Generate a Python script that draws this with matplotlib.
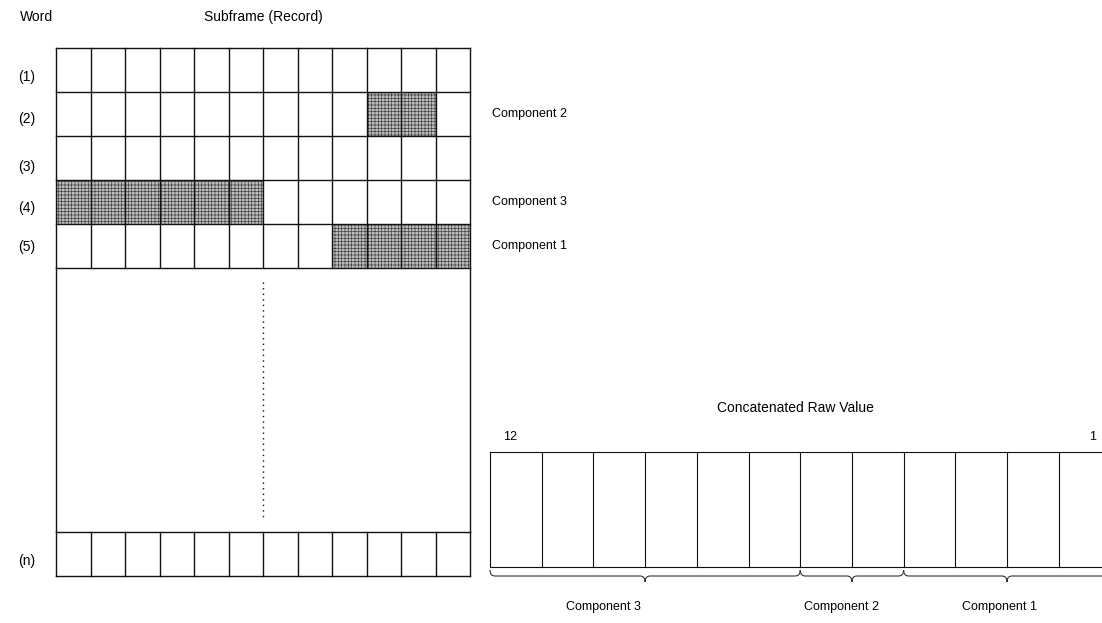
import matplotlib
matplotlib.use("Agg")
import matplotlib.pyplot as plt
from matplotlib.patches import Rectangle
from matplotlib.path import Path
from matplotlib.patches import PathPatch

plt.rcParams['font.family'] = ['Liberation Sans', 'DejaVu Sans']
plt.rcParams['hatch.linewidth'] = 0.5

# ---- data ----
n_bits = 12
row_labels = ["(1)", "(2)", "(3)", "(4)", "(5)"]
last_row_label = "(n)"
# shaded cells: (component name, row index, first col, last col exclusive)
comp_names = ["Component 2", "Component 3", "Component 1"]
comp_rows = [1, 3, 4]
comp_start = [9, 0, 8]
comp_stop = [11, 6, 12]
# concatenated bit grouping (left to right)
concat_names = ["Component 3", "Component 2", "Component 1"]
concat_widths = [6, 2, 4]
bit_labels = ["12", "1"]

# ---- layout (pixel coordinates) ----
W, H = 1102, 623
fig = plt.figure(figsize=(W / 100, H / 100), dpi=100)
ax = fig.add_axes([0, 0, 1, 1])
ax.set_xlim(0, W)
ax.set_ylim(H, 0)
ax.axis('off')

gx0, gx1 = 56, 470
gy0, rh = 48, 44
cw = (gx1 - gx0) / n_bits
lw = 1.0
lc = '#111111'
fs = 10

# header
ax.text(20, 17, "Word", fontsize=fs, va='center', ha='left')
ax.text((gx0 + gx1) / 2, 17, "Subframe (Record)", fontsize=fs, va='center', ha='center')

label_y = [77, 119, 167, 208, 247]
for i, lab in enumerate(row_labels):
    ax.text(18, label_y[i], lab, fontsize=fs, va='center', ha='left')

# shaded cells
for name, r, c0, c1 in zip(comp_names, comp_rows, comp_start, comp_stop):
    ax.add_patch(Rectangle((gx0 + c0 * cw, gy0 + r * rh), (c1 - c0) * cw, rh,
                           facecolor='#bdbdbd', edgecolor='#444444', hatch='+++++',
                           linewidth=0, zorder=1))
    ax.text(492, gy0 + r * rh + rh / 2, name, fontsize=9, va='center', ha='left')

# grid top rows
nrows = len(row_labels)
for r in range(nrows + 1):
    y = gy0 + r * rh
    ax.plot([gx0, gx1], [y, y], color=lc, lw=lw, zorder=2)
for c in range(n_bits + 1):
    x = gx0 + c * cw
    ax.plot([x, x], [gy0, gy0 + nrows * rh], color=lc, lw=lw, zorder=2)

# middle big box
my0 = gy0 + nrows * rh
ny0 = 532
ax.plot([gx0, gx0], [my0, ny0], color=lc, lw=lw)
ax.plot([gx1, gx1], [my0, ny0], color=lc, lw=lw)
ax.plot([263, 263], [282, 517], color=lc, lw=1.0, linestyle=(0, (1, 3)))

# last row
for y in (ny0, ny0 + rh):
    ax.plot([gx0, gx1], [y, y], color=lc, lw=lw)
for c in range(n_bits + 1):
    x = gx0 + c * cw
    ax.plot([x, x], [ny0, ny0 + rh], color=lc, lw=lw)
ax.text(18, 561, last_row_label, fontsize=fs, va='center', ha='left')

# concatenated raw value
bx0, bcw = 490, 51.7
by0, by1 = 452, 567
ax.text(795, 408, "Concatenated Raw Value", fontsize=fs, va='center', ha='center')
ax.text(503, 437, bit_labels[0], fontsize=9, va='center', ha='left')
ax.text(1089, 437, bit_labels[1], fontsize=9, va='center', ha='left')
bx1 = bx0 + n_bits * bcw
ax.plot([bx0, bx1], [by0, by0], color=lc, lw=0.8)
ax.plot([bx0, bx1], [by1, by1], color=lc, lw=0.8)
for c in range(n_bits + 1):
    x = bx0 + c * bcw
    ax.plot([x, x], [by0, by1], color=lc, lw=0.8)


def brace(x0, x1, ytop):
    xm = (x0 + x1) / 2
    d = 5
    verts = [(x0, ytop), (x0, ytop + 6), (x0 + d, ytop + 6),
             (xm - d, ytop + 6), (xm, ytop + 6), (xm, ytop + 12),
             (xm, ytop + 6), (xm + d, ytop + 6),
             (x1 - d, ytop + 6), (x1, ytop + 6), (x1, ytop)]
    codes = [Path.MOVETO, Path.CURVE3, Path.CURVE3,
             Path.LINETO, Path.CURVE3, Path.CURVE3,
             Path.CURVE3, Path.CURVE3,
             Path.LINETO, Path.CURVE3, Path.CURVE3]
    ax.add_patch(PathPatch(Path(verts, codes), facecolor='none', edgecolor='#333333', lw=0.8))


label_x = [603, 842, 999]
pos = 0
for name, w, lx in zip(concat_names, concat_widths, label_x):
    x0 = bx0 + pos * bcw
    x1 = bx0 + (pos + w) * bcw
    brace(x0, x1, 570)
    ax.text(lx, 607, name, fontsize=9, va='center', ha='center')
    pos += w

fig.savefig("out.png", dpi=100)
